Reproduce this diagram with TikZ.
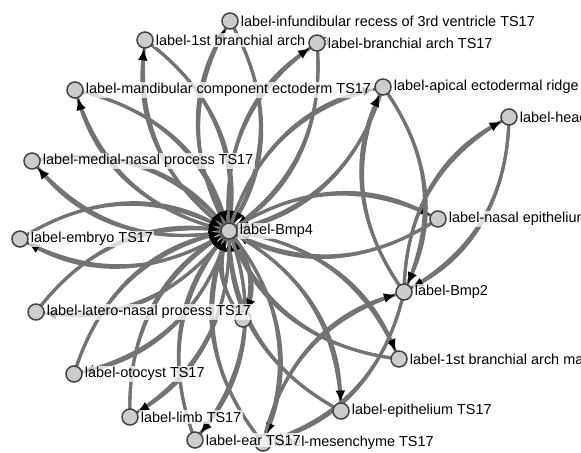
\documentclass[tikz,border=0pt]{standalone}
\usepackage{fontspec}
\setmainfont{Liberation Sans}
\usetikzlibrary{arrows.meta}
\pgfdeclarelayer{bg}
\pgfsetlayers{bg,main}
\definecolor{edgegray}{HTML}{737373}
\definecolor{nodegray}{HTML}{CCCCCC}
\definecolor{nodeborder}{HTML}{444444}
\tikzset{
 gnode/.style={circle, draw=nodeborder, line width=1.5bp, fill=nodegray, minimum size=16bp, inner sep=0pt},
 lbl/.style={fill=white, fill opacity=0.75, text opacity=1, inner sep=1.5bp, font=\fontsize{14.5}{16}\selectfont},
 lnk/.style={draw=edgegray, line width=3.1bp},
 arrlnk/.style={lnk, -{Latex[length=12bp,width=10bp,color=black]}, shorten >=8.5bp},
}
\begin{document}
\begin{tikzpicture}[x=1bp,y=-1bp,label distance=0.5bp]
\useasboundingbox (0,0) rectangle (581,453);
\clip (0,0) rectangle (581,453);
% nodes
\node[gnode,label={[lbl]right:label-Bmp4}] (bmp4) at (229,231) {};
\node[gnode,label={[lbl]right:label-infundibular recess of 3rd ventricle TS17}] (infund) at (230,21) {};
\node[gnode,label={[lbl]right:label-1st branchial arch ma}] (topfirst) at (145,40) {};
\node[gnode,label={[lbl]right:label-branchial arch TS17}] (branch) at (317,43) {};
\node[gnode,label={[lbl]right:label-mandibular component ectoderm TS17}] (mandib) at (75,90) {};
\node[gnode,label={[lbl]right:label-apical ectodermal ridge}] (apical) at (383,87) {};
\node[gnode,label={[lbl]right:label-head}] (head) at (509,117) {};
\node[gnode,label={[lbl]right:label-medial-nasal process TS17}] (medial) at (32,161) {};
\node[gnode,label={[lbl]right:label-nasal epithelium}] (nasal) at (438,219) {};
\node[gnode,label={[lbl]right:label-embryo TS17}] (embryo) at (20,239) {};
\node[gnode,label={[lbl]right:label-Bmp2}] (bmptwo) at (404,292) {};
\node[gnode] (unl) at (243,319) {};
\node[gnode,label={[lbl]right:label-latero-nasal process TS17}] (latero) at (36,312) {};
\node[gnode,label={[lbl]right:label-1st branchial arch ma}] (rfirst) at (399,359) {};
\node[gnode,label={[lbl]right:label-otocyst TS17}] (otocyst) at (74,374) {};
\node[gnode,label={[lbl]right:label-epithelium TS17}] (epith) at (341,411) {};
\node[gnode,label={[lbl]right:label-limb TS17}] (limb) at (130,417) {};
\node[gnode,label={[lbl]right:label-mesenchyme TS17}] (mesen) at (263,443) {};
\node[gnode,label={[lbl]right:label-ear TS17}] (ear) at (195,440) {};
% links
\begin{pgfonlayer}{bg}
\fill[white] (0,0) rectangle (581,453);
\foreach \a/\b in {bmp4/infund, infund/bmp4, bmp4/topfirst, topfirst/bmp4,
  bmp4/branch, branch/bmp4, bmp4/mandib, mandib/bmp4, bmp4/apical, apical/bmp4,
  bmp4/medial, medial/bmp4, bmp4/nasal, nasal/bmp4, bmp4/embryo, embryo/bmp4,
  bmp4/latero, latero/bmp4, bmp4/unl, unl/bmp4, bmp4/rfirst, rfirst/bmp4,
  bmp4/otocyst, otocyst/bmp4, bmp4/epith, epith/bmp4, bmp4/limb, limb/bmp4,
  bmp4/ear, ear/bmp4, bmp4/mesen, mesen/bmp4,
  bmptwo/head, head/bmptwo, bmptwo/apical, apical/bmptwo, bmptwo/mesen, mesen/bmptwo}{
  \draw[lnk] (\a.center) to[bend left=30] (\b.center);
  \draw[arrlnk] (\a.center) to[bend left=30] (\b.center);
}
\end{pgfonlayer}
\end{tikzpicture}
\end{document}
